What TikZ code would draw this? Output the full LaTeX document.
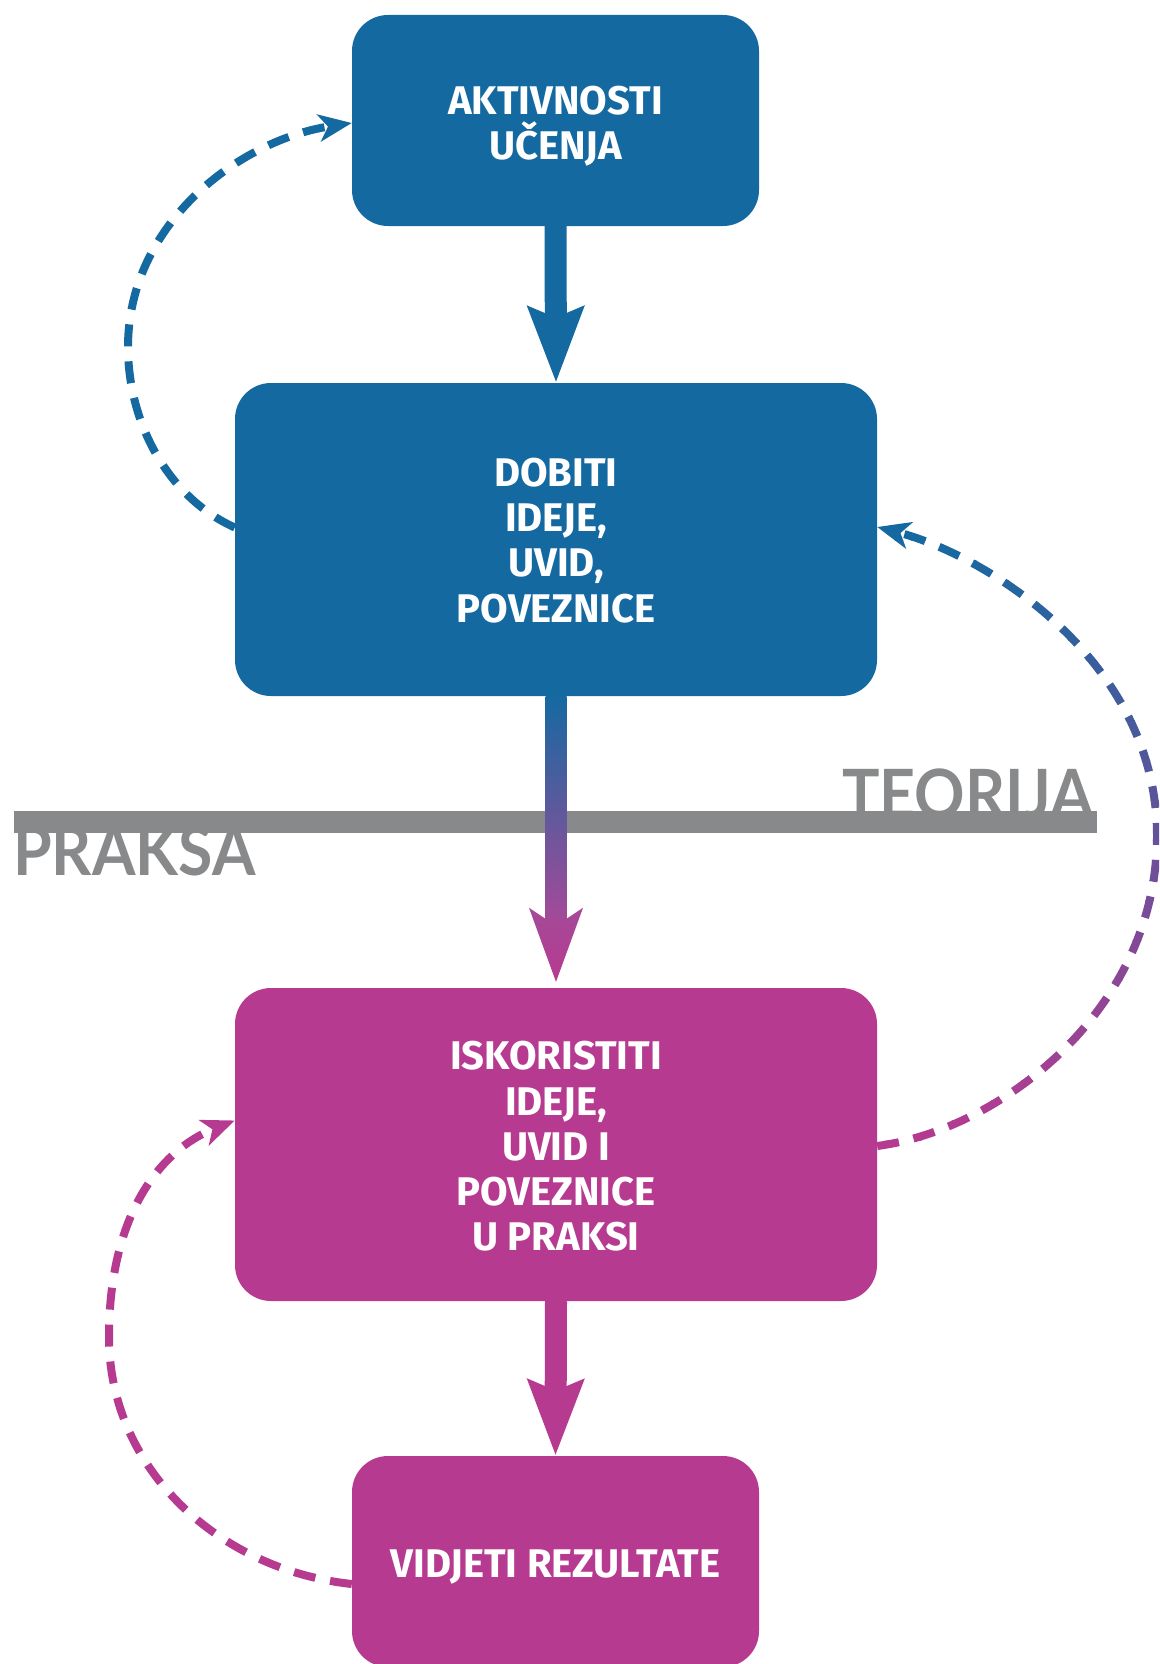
\documentclass[tikz,border=0pt]{standalone}
\usepackage{fontspec}
\setmainfont{Fira Sans}
\newfontfamily\labelfont{Lato}
\usetikzlibrary{arrows.meta,calc}
\definecolor{cblue}{HTML}{1569A1}
\definecolor{cmag}{HTML}{B73A91}
\definecolor{cgray}{HTML}{88898B}
\definecolor{cmid}{HTML}{A44A98}
\begin{document}
\begin{tikzpicture}[x=1pt,y=-1pt,
  box/.style={rounded corners=36pt, inner sep=0pt},
  bluebox/.style={box, fill=cblue},
  magbox/.style={box, fill=cmag},
  boxtext/.style={text=white, inner sep=0pt, align=center,
    font=\fontsize{40}{45.2}\selectfont\bfseries},
  smallbox/.style={minimum width=407pt, minimum height=211pt},
  bigbox/.style={minimum width=642pt, minimum height=313pt},
  bigarrow/.style={line width=22pt, -{Stealth[length=75pt,width=54pt,inset=10pt]}},
  loopline/.style={line width=8pt, dash pattern=on 22pt off 15pt,
    -{Stealth[length=33pt,width=27pt,inset=9pt]}},
  biglabel/.style={text=cgray, inner sep=0pt, xscale=0.92,
    font=\labelfont\fontsize{68}{68}\selectfont\bfseries}]
\useasboundingbox (0,0) rectangle (1159,1664);

% theory / practice labels and bar
\node[biglabel, anchor=base east] (teorija) at (1094,818) {TEORIJA};
\node[biglabel, anchor=base west] (praksa) at (13,875) {PRAKSA};
\fill[cgray] (14,811) rectangle (1097,833);

% boxes
\node[bluebox, smallbox] (b1) at (555.5,120.5) {};
\node[boxtext] (t1) at ($(b1)+(0,6)$) {AKTIVNOSTI\\UČENJA};
\node[bluebox, bigbox] (b2) at (556,539.5) {};
\node[boxtext] (t2) at ($(b2)+(0,1)$) {DOBITI\\IDEJE,\\UVID,\\POVEZNICE};
\node[magbox, bigbox] (b3) at (556,1144.5) {};
\node[boxtext] (t3) at ($(b3)+(0,2)$) {ISKORISTITI\\IDEJE,\\UVID I\\POVEZNICE\\U PRAKSI};
\node[magbox, smallbox] (b4) at (555.5,1561.5) {};
\node[boxtext] (t4) at ($(b4)+(0,5)$) {VIDJETI REZULTATE};

% straight arrows
\draw[bigarrow, cblue] (b1.south) -- (b2.north);
\draw[bigarrow, cmag] (b3.south) -- (b4.north);

% gradient arrow b2 -> b3
\coordinate (a2s) at (b2.south);
\coordinate (a2t) at ($(b3.north)+(0,-6)$);
\shade[top color=cblue, bottom color=cmid] ($(a2s)+(-10.5,0)$) rectangle ($(a2t)+(10.5,-62)$);
\shade[top color=cmid, bottom color=cmag] ($(a2t)+(-27,-74)$) -- (a2t) -- ($(a2t)+(27,-74)$)
  -- ($(a2t)+(10.5,-63)$) -- ($(a2t)+(-10.5,-63)$) -- cycle;

% dashed loops
\coordinate (l1s) at ($(b2.west)+(0,-12)$);
\coordinate (l1e) at ($(b1.west)+(0,2.5)$);
\draw[loopline, cblue] (l1s) .. controls (169,498) and (128,424) .. (128,347)
  .. controls (128,223) and (240,140) .. (l1e);

\coordinate (l3s) at ($(b4.west)+(0,22.5)$);
\coordinate (l3e) at ($(b3.west)+(0,-24)$);
\draw[loopline, cmag] (l3s) .. controls (220,1570) and (109,1470) .. (109,1337)
  .. controls (109,1215) and (160,1150) .. (l3e);

\coordinate (r1) at ($(b3.east)+(0,1.5)$);
\coordinate (r2) at ($(b2.east)+(0,-12.5)$);
\foreach \i in {0,...,37} {
  \pgfmathsetmacro\ya{480+\i*20}
  \pgfmathsetmacro\yb{\ya+20.5}
  \pgfmathtruncatemacro\pc{max(0,min(100,(\ya+10-527)/(1146-527)*100))}
  \begin{scope}
    \clip (0,\ya) rectangle (1159,\yb);
    \draw[loopline, color=cmag!\pc!cblue] (r1) .. controls (1000,1130) and (1157,1010) .. (1157,836)
      .. controls (1157,660) and (985,555) .. (r2);
  \end{scope}
}
\end{tikzpicture}
\end{document}
